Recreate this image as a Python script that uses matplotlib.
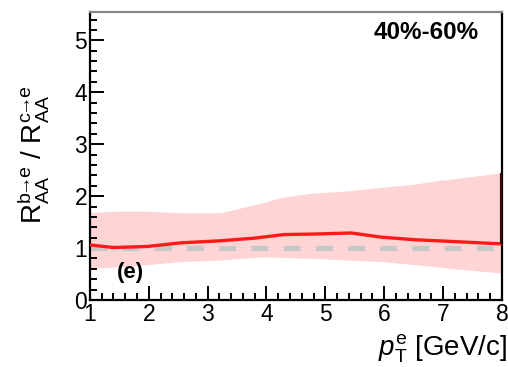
import matplotlib
matplotlib.use("Agg")
import matplotlib.pyplot as plt
from matplotlib.ticker import MultipleLocator

plt.rcParams['font.family'] = ['Liberation Sans', 'DejaVu Sans']
plt.rcParams['mathtext.fontset'] = 'custom'
plt.rcParams['mathtext.rm'] = 'Liberation Sans'
plt.rcParams['mathtext.it'] = 'Liberation Sans:italic'
plt.rcParams['mathtext.bf'] = 'Liberation Sans:bold'

# Double ratio of b->e over c->e nuclear modification, 40%-60% centrality
pt = [1.0, 1.4, 1.97, 2.54, 3.22, 3.79, 4.30, 4.81, 5.44, 5.95, 6.52, 7.09, 8.0]
ratio = [1.06, 1.01, 1.03, 1.10, 1.14, 1.19, 1.26, 1.27, 1.29, 1.21, 1.16, 1.13, 1.08]

band_pt = [1.0, 1.4, 1.97, 2.54, 3.22, 3.67, 3.95, 4.24, 4.53, 4.81, 5.38, 5.95, 6.52, 6.97, 7.09, 8.0]
band_hi = [1.68, 1.71, 1.71, 1.68, 1.68, 1.80, 1.88, 1.97, 2.02, 2.06, 2.10, 2.17, 2.23, 2.31, 2.32, 2.45]
band_lo = [0.61, 0.63, 0.68, 0.74, 0.77, 0.81, 0.83, 0.82, 0.81, 0.80, 0.77, 0.74, 0.68, 0.63, 0.61, 0.52]

centrality = "40%-60%"
panel = "(e)"

fig = plt.figure(figsize=(5.08, 3.67), dpi=100)
ax = fig.add_axes([0.177, 0.1826, 0.811, 0.7854])

ax.fill_between(band_pt, band_lo, band_hi, color='#ffd4d4', lw=0, zorder=1)
ax.axhline(1.0, color='#c8c8c8', lw=3.8, dashes=(3.2, 2.9), zorder=2)
ax.plot(pt, ratio, color='#ff1a1a', lw=2.4, solid_capstyle='butt', zorder=3)
ax.vlines(pt[-1], ratio[-1], band_hi[-1], color='#3a0808', lw=3.0, zorder=4)

ax.set_xlim(1, 8)
ax.set_ylim(0, 5.55)
ax.xaxis.set_major_locator(MultipleLocator(1))
ax.xaxis.set_minor_locator(MultipleLocator(0.2))
ax.yaxis.set_major_locator(MultipleLocator(1))
ax.yaxis.set_minor_locator(MultipleLocator(0.2))

ax.tick_params(which='both', direction='in', top=False, right=False,
               width=1.4, labelsize=16.5, color='black')
ax.tick_params(which='major', length=10, pad=2)
ax.tick_params(which='minor', length=5)
for s in ax.spines.values():
    s.set_linewidth(1.6)
ax.spines['top'].set_color('#888888')

fig.text(0.998, 0.030, r'$p_{\mathrm{T}}^{\mathrm{e}}$ [GeV/c]', fontsize=20,
         ha='right', va='baseline')
fig.text(0.065, 0.578,
         r'R$_{\mathrm{AA}}^{\mathrm{b}\!\!\rightarrow\!\!\mathrm{e}}$ / '
         r'R$_{\mathrm{AA}}^{\mathrm{c}\!\!\rightarrow\!\!\mathrm{e}}$',
         fontsize=20, rotation=90, ha='center', va='center')

ax.text(0.944, 0.927, centrality, transform=ax.transAxes, ha='right', va='center',
        fontsize=17.5, fontweight='bold')
ax.text(0.066, 0.097, panel, transform=ax.transAxes, ha='left', va='center',
        fontsize=16, fontweight='bold')

fig.savefig('out.png', dpi=100)
